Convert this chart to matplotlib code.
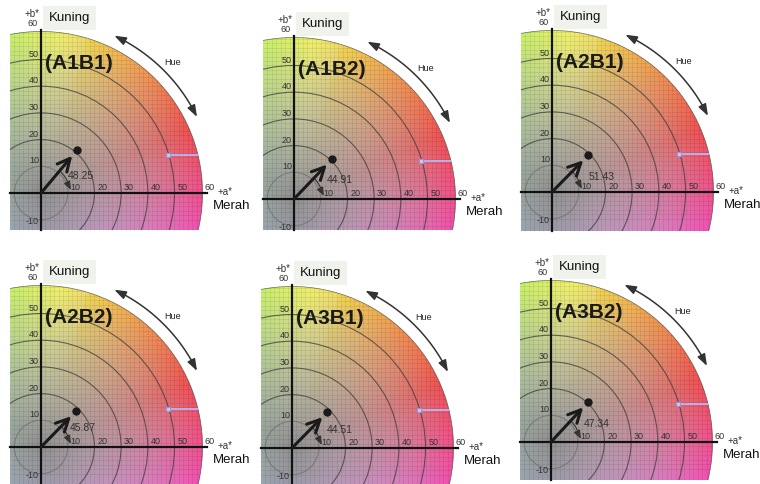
import numpy as np
import matplotlib
matplotlib.use('Agg')
import matplotlib.pyplot as plt
from matplotlib.colors import hsv_to_rgb
from matplotlib.patches import Circle, Rectangle
from matplotlib.collections import LineCollection

plt.rcParams['font.family'] = ['Liberation Sans', 'DejaVu Sans']

# values
panel_labels = ['(A1B1)', '(A1B2)', '(A2B1)', '(A2B2)', '(A3B1)', '(A3B2)']
hue_values = [48.25, 44.91, 51.43, 45.87, 44.51, 47.34]
a_values = [13.6, 14.3, 13.6, 13.1, 13.2, 14.0]
b_values = [16.2, 15.0, 13.8, 13.4, 13.4, 15.1]

x_ticks = [10, 20, 30, 40, 50]
y_ticks = [10, 20, 30, 40, 50]

# layout (pixels in the 760x484 picture)
W, H = 760, 484
S = 2.67          # pixels per a*/b* unit
origins = [(41, 193), (294, 199), (552, 192), (41, 447), (292, 448), (551, 442)]
b_floor = [-14, -11.6, -14.5, -14, -13.6, -14.2]
hue_text_pos = [(10.2, 4.6), (12.3, 5.3), (13.8, 3.9), (10.9, 5.3), (13, 5.0), (12.4, 5.0)]
XL = (-13, 79)
YL = (-16, 71)
A_MIN = -11.5
R = 60.5


def wheel_colours(bmin):
    ga = np.linspace(A_MIN, 61, 360)
    gb = np.linspace(bmin, 61, 360)
    AA, BB = np.meshgrid(ga, gb)
    rr = np.hypot(AA, BB)
    ang = np.degrees(np.arctan2(BB, AA))
    frac = np.clip(rr / 60., 0, 1)
    hue = (337 + ang) % 360
    # softer yellow-green towards the top left
    sat = 0.66 * frac ** 1.35 * np.where((hue > 50) & (hue < 110), 0.85, 1.0)
    hsv = np.dstack([hue / 360., sat, 0.56 + 0.38 * frac ** 0.9])
    return hsv_to_rgb(hsv)


fig = plt.figure(figsize=(W / 100, H / 100), dpi=100)

for i in range(6):
    ox, oy = origins[i]
    bmin = b_floor[i]
    left = (ox + XL[0] * S) / W
    bottom = (H - (oy - YL[0] * S)) / H
    ax = fig.add_axes([left, bottom, (XL[1] - XL[0]) * S / W, (YL[1] - YL[0]) * S / H])
    ax.set_xlim(*XL)
    ax.set_ylim(*YL)
    ax.axis('off')

    # coloured quarter disc
    disc = Circle((0, 0), R, transform=ax.transData)
    im = ax.imshow(wheel_colours(bmin), origin='lower', extent=[A_MIN, 61, bmin, 61],
                   interpolation='bilinear', aspect='auto', zorder=0)
    im.set_clip_path(disc)

    # fine grid
    step = 10 / 6.
    segs = []
    for v in np.arange(-10, 61, step):
        segs.append([(v, bmin), (v, 61)])
        if v >= bmin:
            segs.append([(A_MIN, v), (61, v)])
    lc = LineCollection(segs, colors='k', linewidths=0.5, alpha=0.10, zorder=1)
    ax.add_collection(lc)
    lc.set_clip_path(Circle((0, 0), R, transform=ax.transData))

    # chroma rings
    rect = Rectangle((A_MIN, bmin), 80, 80, transform=ax.transData)
    for r in [10, 20, 30, 40, 50, R]:
        col = '#707070' if r == 10 else '#3c3c3c'
        ring = Circle((0, 0), r, fill=False, ec=col, lw=0.8 if r < R else 0.5,
                      alpha=0.75, zorder=2)
        ax.add_patch(ring)
        ring.set_clip_path(rect)

    # axes
    ax.plot([0, 0], [bmin, 61], color='#111111', lw=1.6, zorder=3)
    ax.plot([A_MIN, 62], [0, 0], color='#111111', lw=1.6, zorder=3)

    for t in x_ticks:
        ax.text(t + 1, 0.4, str(t), fontsize=6.5, color='#333333', ha='left', va='bottom', zorder=4)
    ax.text(61.4, 0.4, '60', fontsize=6.5, color='#333333', ha='left', va='bottom')
    for t in y_ticks:
        ax.text(-0.8, t + 0.3, str(t), fontsize=6.5, color='#333333', ha='right', va='bottom', zorder=4)
    ax.text(-0.8, -10.5, '-10', fontsize=6.5, color='#333333', ha='right', va='center', zorder=4)

    ax.text(-3.3, 63.4, '60', fontsize=6.5, color='#333333', ha='center', va='center')
    ax.text(-3.5, 67.0, '+b*', fontsize=7, color='#333333', ha='center', va='center')
    ax.text(2.8, 65.4, 'Kuning', fontsize=9.5, color='#111111', ha='left', va='center',
            bbox=dict(boxstyle='square,pad=0.45', fc='#f0f3ec', ec='none'))
    ax.text(66, 0.5, '+a*', fontsize=7, color='#333333', ha='left', va='center')
    ax.text(64.4, -5.0, 'Merah', fontsize=9.5, color='#111111', ha='left', va='center')

    # panel label
    ax.text(1.6, 48.5, panel_labels[i], fontsize=15, fontweight='bold', color='#1a1a1a',
            ha='left', va='center', zorder=5)

    # hue arc outside the disc
    th = np.radians(np.linspace(29, 62, 60))
    ax.plot(65 * np.cos(th), 65 * np.sin(th), color='#333333', lw=1.1)
    for k0, k1 in [(26, 30), (65, 61)]:
        ax.annotate('', xy=(65 * np.cos(np.radians(k0)), 65 * np.sin(np.radians(k0))),
                    xytext=(65 * np.cos(np.radians(k1)), 65 * np.sin(np.radians(k1))),
                    arrowprops=dict(arrowstyle='-|>,head_length=0.7,head_width=0.25',
                                    color='#333333', lw=1.1, shrinkA=0, shrinkB=0))
    ax.text(49.4, 48.7, 'Hue', fontsize=6.5, color='#222222', ha='center', va='center')

    # lavender marker line
    ax.plot([47.5, 58.5], [14.4, 14.4], color='#b8b2ea', lw=1.4, zorder=3)
    ax.plot([47.5], [14.4], marker='s', ms=3.5, mfc='#cfc8f2', mec='#9a92d8', mew=0.8, zorder=3)

    # sample point and vector
    a, b = a_values[i], b_values[i]
    ax.plot([a], [b], 'o', ms=5, color='#1a1a1a', zorder=6)
    ax.annotate('', xy=(0.86 * a, 0.86 * b), xytext=(0, 0),
                arrowprops=dict(arrowstyle='->,head_length=0.9,head_width=0.45',
                                color='#1a1a1a', lw=2.2, shrinkA=0, shrinkB=0), zorder=6)

    # hue angle arc
    ang = np.degrees(np.arctan2(b, a))
    th = np.radians(np.linspace(ang - 3, 12, 30))
    ax.plot(10.8 * np.cos(th), 10.8 * np.sin(th), color='#333333', lw=0.8, zorder=5)
    ax.annotate('', xy=(11.2, 1.2), xytext=(10.8 * np.cos(np.radians(14)), 10.8 * np.sin(np.radians(14))),
                arrowprops=dict(arrowstyle='-|>,head_length=0.5,head_width=0.2',
                                color='#333333', lw=0.8, shrinkA=0, shrinkB=0), zorder=5)
    tx, ty = hue_text_pos[i]
    ax.text(tx, ty, '%.2f' % hue_values[i], fontsize=7.5, color='#333333',
            ha='left', va='bottom', zorder=5)

fig.savefig('out.png', dpi=100)
